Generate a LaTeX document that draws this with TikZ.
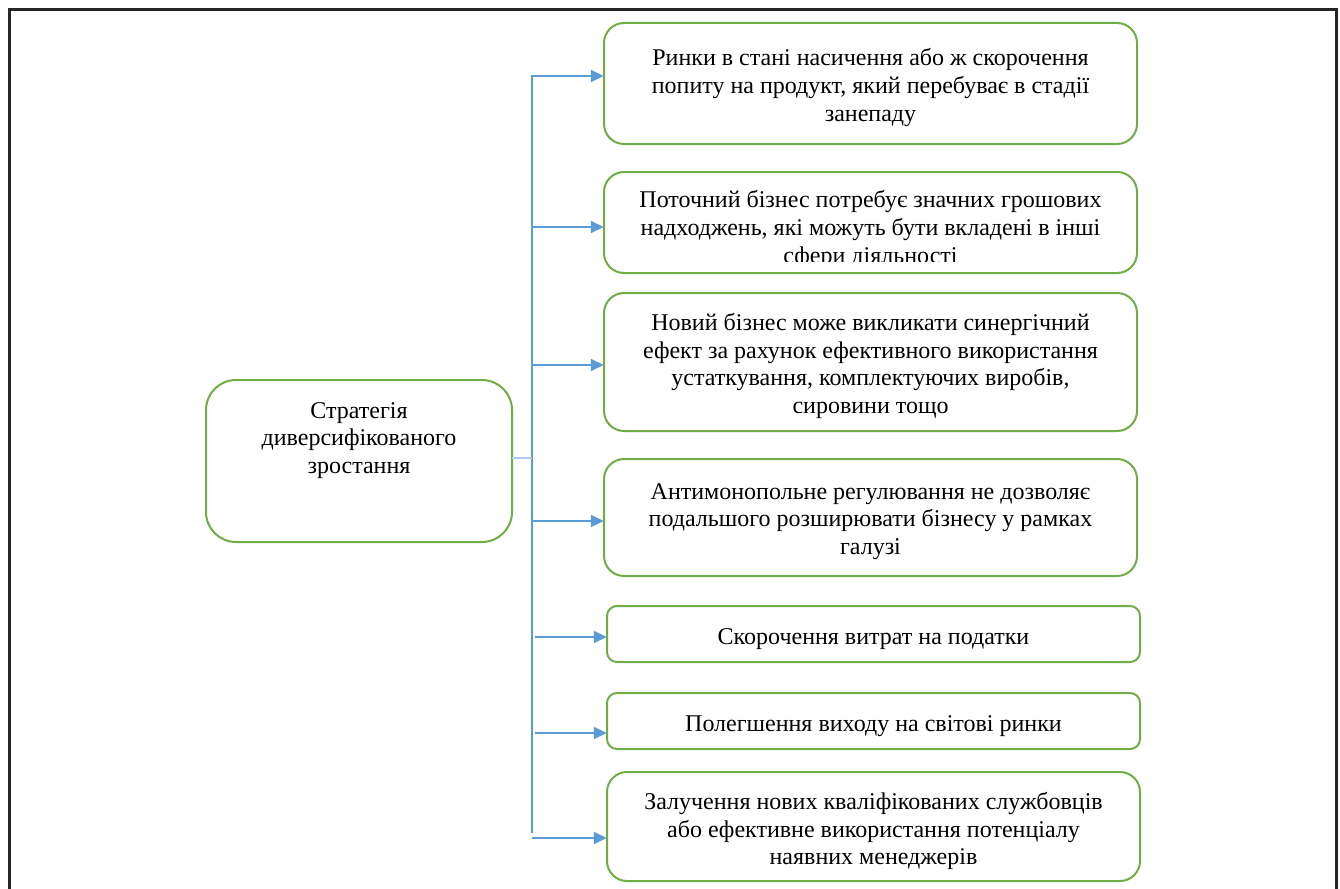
\documentclass[tikz,border=0pt]{standalone}
\usepackage{fontspec}
\setmainfont{Liberation Serif}
\usetikzlibrary{arrows.meta}
\definecolor{bgreen}{HTML}{70AD47}
\definecolor{lblue}{HTML}{5B9BD5}
\definecolor{frame}{HTML}{262626}
\tikzset{
  box/.style={draw=bgreen, line width=2pt, rounded corners=#1, inner sep=0pt},
  box/.default=20pt,
  txt/.style={align=center, inner sep=0pt, font=\fontsize{24}{27.6}\selectfont},
  arr/.style={draw=lblue, line width=1.6pt, -{Triangle[length=13pt,width=12pt]}},
  trunk/.style={draw=lblue, line width=1.3pt}
}
\begin{document}
\begin{tikzpicture}[x=1pt,y=-1pt]
\useasboundingbox (0,0) rectangle (1340,888);
% outer frame
\draw[frame, line width=3pt] (9,900) -- (9,10) -- (1336,10) -- (1336,900);

% main box
\draw[box=30pt] (206,380) rectangle (512,542);
\node[minimum width=306pt, minimum height=162pt, inner sep=0pt] (m) at (359,461) {};
\node[txt] (mt) at (359,440.5) {Стратегія\\диверсифікованого\\зростання};

% right boxes
\draw[box] (604,23) rectangle (1137,144);
\node[minimum width=533pt, minimum height=121pt] (b1) at (870.5,83.5) {};
\node[txt] (t1) at (870.5,87.5) {Ринки в стані насичення або ж скорочення\\попиту на продукт, який перебуває в стадії\\занепаду};

\draw[box] (604,172) rectangle (1137,273);
\node[minimum width=533pt, minimum height=101pt] (b2) at (870.5,222.5) {};
\begin{scope}
\clip (600,165) rectangle (1140,261);
\node[txt] (t2) at (870.5,229.5) {Поточний бізнес потребує значних грошових\\надходжень, які можуть бути вкладені в інші\\сфери діяльності};
\end{scope}

\draw[box] (604,293) rectangle (1137,431);
\node[minimum width=533pt, minimum height=138pt] (b3) at (870.5,362) {};
\node[txt] (t3) at (870.5,366) {Новий бізнес може викликати синергічний\\ефект за рахунок ефективного використання\\устаткування, комплектуючих виробів,\\сировини тощо};

\draw[box] (604,459) rectangle (1137,576);
\node[minimum width=533pt, minimum height=117pt] (b4) at (870.5,517.5) {};
\node[txt] (t4) at (870.5,521.5) {Антимонопольне регулювання не дозволяє\\подальшого розширювати бізнесу у рамках\\галузі};

\draw[box=10pt] (607,606) rectangle (1140,662);
\node[minimum width=533pt, minimum height=56pt] (b5) at (873.5,634) {};
\node[txt] (t5) at (873.5,639) {Скорочення витрат на податки};

\draw[box=10pt] (607,693) rectangle (1140,749);
\node[minimum width=533pt, minimum height=56pt] (b6) at (873.5,721) {};
\node[txt] (t6) at (873.5,726) {Полегшення виходу на світові ринки};

\draw[box=20pt] (607,772) rectangle (1140,881);
\node[minimum width=533pt, minimum height=109pt] (b7) at (873.5,826.5) {};
\node[txt] (t7) at (873.5,831) {Залучення нових кваліфікованих службовців\\або ефективне використання потенціалу\\наявних менеджерів};

% connectors
\coordinate (top) at (532,75);
\coordinate (bot) at (532,833);
\coordinate (j) at (532,458);
\draw[trunk] (top) -- (bot);
\draw[draw=lblue!50, line width=1.2pt] (m.east |- j) -- (j);

\coordinate (s1) at (532,76);
\coordinate (s2) at (532,227);
\coordinate (s3) at (532,365);
\coordinate (s4) at (532,521);
\coordinate (s5) at (535,637);
\coordinate (s6) at (535,733);
\coordinate (s7) at (532,838);
\draw[arr] (s1) -- (b1.west |- s1);
\draw[arr] (s2) -- (b2.west |- s2);
\draw[arr] (s3) -- (b3.west |- s3);
\draw[arr] (s4) -- (b4.west |- s4);
\draw[arr] (s5) -- (b5.west |- s5);
\draw[arr] (s6) -- (b6.west |- s6);
\draw[arr] (s7) -- (b7.west |- s7);
\end{tikzpicture}
\end{document}
